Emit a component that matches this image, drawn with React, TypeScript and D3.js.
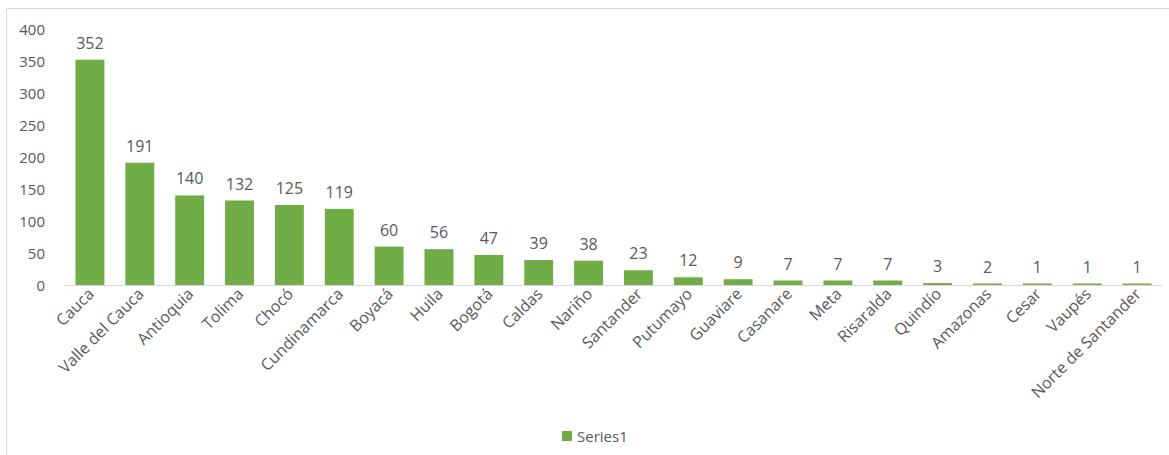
import React from "react";
import * as d3 from "d3";

const categories = ["Cauca","Valle del Cauca","Antioquia","Tolima","Chocó","Cundinamarca","Boyacá","Huila","Bogotá","Caldas","Nariño","Santander","Putumayo","Guaviare","Casanare","Meta","Risaralda","Quindío","Amazonas","Cesar","Vaupés","Norte de Santander"];
const values = [352,191,140,132,125,119,60,56,47,39,38,23,12,9,7,7,7,3,2,1,1,1];
const yTicks = [0,50,100,150,200,250,300,350,400];
const seriesName = "Series1";

const W = 1169, H = 455;
const FONT = "'Open Sans', sans-serif";
const GREEN = "#70AD47";
const TXT = "#595959";

export default function App() {
  const x = d3.scaleBand<string>().domain(categories).range([65, 1162]).paddingInner(0.42).paddingOuter(0.21);
  const y = d3.scaleLinear().domain([0, 400]).range([285, 29]);
  return (
    <svg width={W} height={H} style={{ position: "absolute", left: 0, top: 0, background: "#fff" }} fontFamily={FONT}>
      <rect x={6.5} y={8.5} width={1200} height={500} fill="#fff" stroke="#D9D9D9" />
      {yTicks.map(t => (
        <text key={t} x={45} y={y(t)} textAnchor="end" dominantBaseline="central" fontSize={15} fill={TXT}>{t}</text>
      ))}
      {categories.map((c, i) => (
        <rect key={c} x={x(c)!} y={Math.min(y(values[i]), 283.5)} width={x.bandwidth()} height={Math.max(1.5, y(0) - y(values[i]))} fill={GREEN} />
      ))}
      <line x1={65} x2={1162} y1={285.5} y2={285.5} stroke="#D9D9D9" />
      {categories.map((c, i) => (
        <text key={c} x={x(c)! + x.bandwidth() / 2} y={y(values[i]) - 11} textAnchor="middle" fontSize={16} fill={TXT}>{values[i]}</text>
      ))}
      {categories.map(c => {
        const cx = x(c)! + x.bandwidth() / 2 + 5;
        const cy = 295;
        return (
          <text key={c} transform={`translate(${cx},${cy}) rotate(-45)`} textAnchor="end" fontSize={16} fill={TXT}>{c}</text>
        );
      })}
      <rect x={562} y={431} width={10} height={10} fill={GREEN} />
      <text x={577} y={436} dominantBaseline="central" fontSize={15} fill={TXT}>{seriesName}</text>
    </svg>
  );
}
